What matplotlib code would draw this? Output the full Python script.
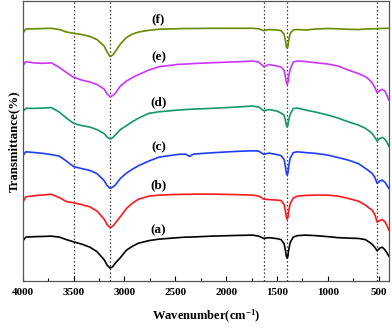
import numpy as np
import matplotlib
matplotlib.use("Agg")
from matplotlib import pyplot as plt
from matplotlib.ticker import MultipleLocator

plt.rcParams['font.family'] = ['Liberation Serif', 'DejaVu Serif']
plt.rcParams['font.weight'] = 'bold'
plt.rcParams['mathtext.fontset'] = 'custom'
plt.rcParams['mathtext.rm'] = 'Liberation Serif:bold'
plt.rcParams['mathtext.it'] = 'Liberation Serif:bold'
plt.rcParams['mathtext.bf'] = 'Liberation Serif:bold'

# wavenumber grid (cm-1), shared by all spectra
wavenumber = [4000, 3970, 3880, 3800, 3720, 3640, 3570, 3500, 3420, 3340,
              3270, 3200, 3170, 3140, 3115, 3090, 3040, 2980, 2920, 2860,
              2760, 2660, 2470, 2400, 2360, 2320, 2140, 1900, 1740, 1680,
              1630, 1580, 1500, 1460, 1430, 1415, 1408, 1400, 1392, 1385,
              1370, 1340, 1300, 1220, 1120, 1000, 900, 800, 700, 630,
              600, 565, 540, 515, 490, 466, 440, 420, 400]

# transmittance (a.u., stacked)
spec_a = [39, 43, 43.5, 43.7, 44, 43, 40.5, 38.3, 36, 33,
          28.5, 20.5, 15, 12, 13.5, 17, 22.5, 30, 34, 37,
          39.5, 41, 42.5, 43, 43, 43.2, 44, 44.7, 45, 44,
          41.7, 42.5, 41.5, 40.5, 36.4, 28.8, 23.8, 22, 24.2, 30.3,
          37.7, 43, 44.5, 45, 44.5, 43.5, 42.5, 42, 41.7, 40.5,
          38.5, 36, 33, 29.3, 32, 33, 30.5, 27.5, 24]
spec_b = [77.7, 83.3, 84.5, 85.2, 85.8, 82.5, 78.5, 77.3, 75.5, 73.3,
          69, 61, 55.5, 52.3, 54, 57, 63.5, 71.7, 77, 81,
          84, 85, 85.7, 85.8, 85.8, 86, 86, 85.5, 85, 84,
          81, 80.5, 80, 79.5, 75.4, 67.8, 62.8, 61, 63.2, 69.3,
          76.7, 82, 84, 84.7, 85, 85, 84, 81.7, 79, 75,
          72.5, 70, 66, 58, 59.5, 60.7, 58.5, 55, 50]
spec_c = [124, 128.3, 127.5, 126.7, 125.5, 124, 119, 113.5, 111.5, 109.7,
          106.5, 99.5, 94.5, 91.7, 93, 95, 101.7, 107, 111, 114.5,
          119, 123, 125.7, 126, 123.7, 126, 127.3, 128.7, 129.3, 129,
          125.7, 127, 125.5, 124.5, 120.6, 112.4, 107, 105, 107.4, 114,
          122, 127.5, 128.3, 127.5, 126.7, 125, 122.5, 120, 116.5, 111.7,
          109.5, 106.7, 103, 96.7, 99, 100, 98, 95, 91.7]
spec_d = [168.3, 171.7, 171.7, 172, 172.5, 168, 162, 156.7, 154.5, 153,
          150.5, 146.5, 143, 141, 142.5, 145, 150.5, 154.5, 158.5, 162,
          166.7, 168.3, 170, 170.5, 170.7, 171, 171.7, 173, 174, 173,
          169.3, 170.5, 169, 167, 164.8, 158.7, 154.8, 153.3, 155.1, 160,
          165.8, 171.5, 172, 170, 168, 165, 162, 158.3, 155, 151.7,
          149.5, 146.7, 143, 139, 141.5, 142.7, 141, 138, 134]
spec_e = [214, 218.3, 217, 216.7, 217.3, 212.5, 207.5, 202.7, 200, 198,
          195.5, 191, 186, 183.3, 184.5, 186.7, 194, 199, 202.5, 205.5,
          210, 213.3, 215.7, 216, 216.2, 216.5, 217.3, 218.2, 219, 218,
          213.3, 215.5, 214, 213, 209.6, 202.3, 197.5, 195.7, 197.8, 203.7,
          210.8, 218, 219, 218.5, 217.3, 216, 214, 210, 206.5, 203.3,
          201, 197.3, 193, 187.3, 189.5, 190.7, 189, 185, 180]
spec_f = [246.7, 251, 251.2, 251.5, 251.7, 250.5, 248, 246.7, 245.5, 243.5,
          240.5, 234, 228, 223.3, 225, 228.3, 236, 242.5, 246, 248,
          249.7, 250.8, 251.3, 251.5, 251.5, 251.5, 251.7, 251.7, 251.7, 251.2,
          249.3, 250.5, 250, 249.3, 245.6, 238.3, 233.5, 231.7, 233.8, 239.7,
          246.8, 250, 250.5, 250, 251, 251.5, 251.2, 250.7, 250.5, 251,
          251, 251.2, 251.3, 251.3, 251.5, 251.6, 251.6, 251.7, 251.7]

labels = ['(a)', '(b)', '(c)', '(d)', '(e)', '(f)']
label_y = [50, 95, 133, 178, 223, 261]
colors = ['#000000', '#ff1a1a', '#1f3dff', '#12966a', '#cc33ff', '#668a00']
marker_lines = [3500, 3140, 1630, 1400, 515]

fig = plt.figure(figsize=(3.92, 3.30), dpi=100)
ax = fig.add_axes([0.058, 0.148, 0.934, 0.849])

for wl in marker_lines:
    ax.axvline(wl, color='#333333', linestyle=(0, (1.2, 1.8)), linewidth=0.9, zorder=1)

for spec, c in zip([spec_a, spec_b, spec_c, spec_d, spec_e, spec_f], colors):
    ax.plot(wavenumber, spec, color=c, linewidth=1.2, zorder=2)

for lab, ly in zip(labels, label_y):
    ax.text(2666, ly, lab, fontsize=9.5, fontweight='bold', ha='center', va='center')

ax.set_xlim(4000, 400)
ax.set_ylim(-1, 279)
ax.xaxis.set_major_locator(MultipleLocator(500))
ax.xaxis.set_minor_locator(MultipleLocator(250))
ax.tick_params(axis='x', which='both', direction='in', top=False, labelsize=8, pad=5)
ax.tick_params(axis='x', which='major', length=3.5, width=0.8)
ax.tick_params(axis='x', which='minor', length=2, width=0.8)
ax.set_yticks([])
for sp in ax.spines.values():
    sp.set_color('#555555')
    sp.set_linewidth(0.9)
for t in ax.get_xticklabels():
    t.set_fontweight('bold')

ax.set_xlabel(r'Wavenumber(cm$^{-1}$)', fontsize=9, fontweight='bold', labelpad=8)
ax.set_ylabel('Transmittance(%)', fontsize=9.3, fontweight='bold', labelpad=2)

fig.savefig('out.png', dpi=100)
